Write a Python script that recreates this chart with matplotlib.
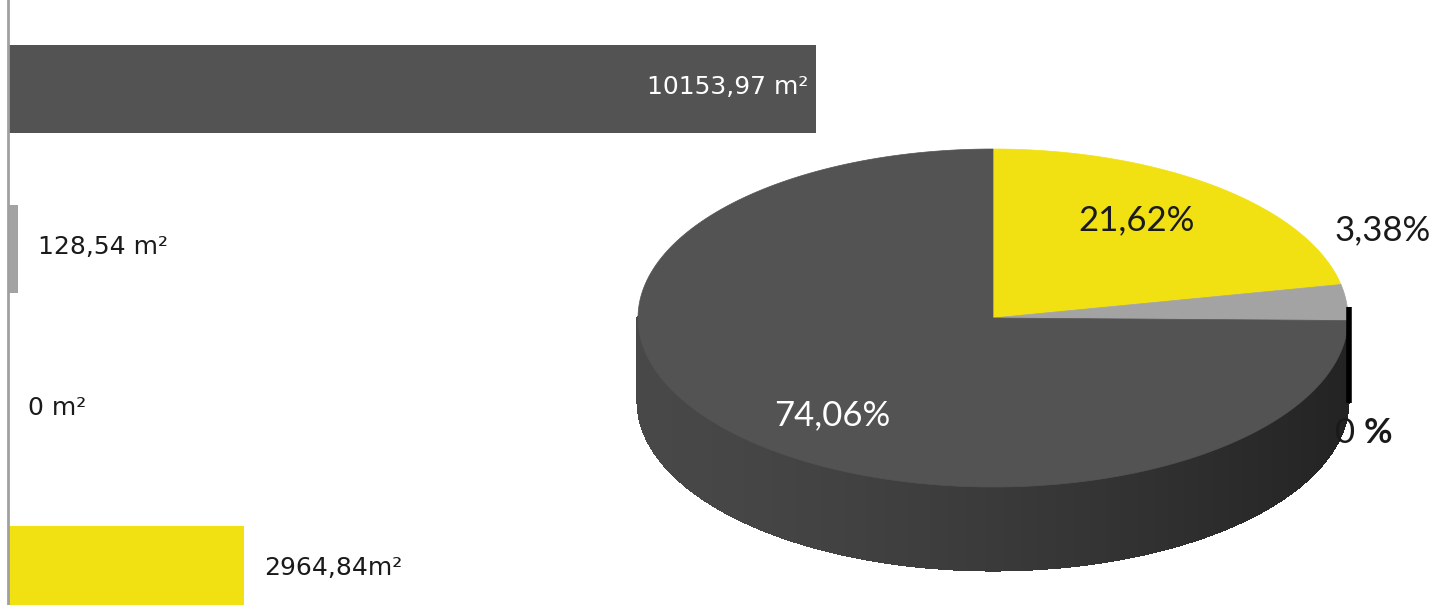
import numpy as np
import matplotlib
matplotlib.use("Agg")
import matplotlib.pyplot as plt
from matplotlib.collections import PolyCollection
from matplotlib.patches import Polygon
import matplotlib.colors as mcolors

# bar chart data (top to bottom)
bar_values = [10153.97, 128.54, 0.0, 2964.84]
bar_labels = ["10153,97 m²", "128,54 m²", "0 m²", "2964,84m²"]
bar_colors = ["#535353", "#a3a3a3", "#a3a3a3", "#f1e012"]

# pie data, clockwise from 12 o'clock
pie_shares = [21.62, 3.38, 0.0, 74.06]
pie_labels = ["21,62%", "3,38%", "0 %", "74,06%"]
pie_colors = ["#f1e012", "#a3a3a3", "#7a7a7a", "#535353"]

W, H = 1434, 605
fig = plt.figure(figsize=(W / 100, H / 100), dpi=100)

# ---------- left: horizontal bars ----------
ax = fig.add_axes([8 / W, 0, 808 / W, 1])
y = np.arange(len(bar_values))
ax.barh(y, bar_values, height=0.55, color=bar_colors, zorder=2)
ax.set_xlim(0, max(bar_values))
ax.set_ylim(3.218, -0.555)
for s in ["top", "right", "bottom"]:
    ax.spines[s].set_visible(False)
ax.spines["left"].set_color("#a0a0a0")
ax.spines["left"].set_linewidth(2)
ax.set_xticks([])
ax.set_yticks([])
ax.patch.set_alpha(0)

for i, (v, lab) in enumerate(zip(bar_values, bar_labels)):
    if v == max(bar_values):
        ax.annotate(lab, (v, i), xytext=(-8, 2), textcoords="offset pixels",
                    ha="right", va="center", color="white", fontsize=18,
                    family="DejaVu Sans")
    else:
        ax.annotate(lab, (v, i), xytext=(20, 2), textcoords="offset pixels",
                    ha="left", va="center", color="#1a1a1a", fontsize=18,
                    family="DejaVu Sans")

# ---------- right: 3D-looking pie ----------
pax = fig.add_axes([0, 0, 1, 1])
pax.set_xlim(0, W)
pax.set_ylim(H, 0)
pax.axis("off")
pax.patch.set_alpha(0)

cx, cy, a, b, depth = 993, 318, 355, 169, 83
shares = np.array(pie_shares) / sum(pie_shares)
bounds = np.concatenate([[0], np.cumsum(shares)]) * 360


def edge(t):
    t = np.radians(t)
    return cx + a * np.sin(t), cy - b * np.cos(t)


# side wall (front half only, 90..270 deg clockwise from top)
side_base = np.array(mcolors.to_rgb("#484848"))
side_dark = np.array(mcolors.to_rgb("#232323"))
ts = np.linspace(90, 270, 300)
polys, cols = [], []
for t0, t1 in zip(ts[1:], ts[:-1]):
    x0, y0 = edge(t0)
    x1, y1 = edge(t1)
    polys.append([(x0, y0), (x1, y1), (x1, y1 + depth), (x0, y0 + depth)])
    f = ((x0 + x1) / 2 - (cx - a)) / (2 * a)
    f = np.clip(f, 0, 1) ** 1.4
    cols.append(side_base * (1 - f) + side_dark * f)
pax.add_collection(PolyCollection(polys, facecolors=cols, edgecolors=cols,
                                  linewidths=1.5, antialiased=False))

# top face wedges
for i in range(len(shares)):
    if shares[i] == 0:
        continue
    tt = np.linspace(bounds[i], bounds[i + 1], 200)
    xs, ys = edge(tt)
    pts = np.column_stack([np.r_[cx, xs], np.r_[cy, ys]])
    pax.add_patch(Polygon(pts, closed=True, facecolor=pie_colors[i],
                          edgecolor=pie_colors[i], linewidth=0.5))

# labels inside the big slices
lab_font = dict(family=["Lato", "DejaVu Sans"], fontsize=25)
inner_shift = {0: (-14, 6), 3: (16, -14)}
for i in [0, 3]:
    mid = (bounds[i] + bounds[i + 1]) / 2
    t = np.radians(mid)
    lx, ly = cx + 0.7 * a * np.sin(t), cy - 0.7 * b * np.cos(t)
    pax.annotate(pie_labels[i], (lx, ly), xytext=inner_shift[i],
                 textcoords="offset pixels", ha="center", va="center",
                 color="white" if i == 3 else "#1a1a1a", **lab_font)

# small slices labelled outside
gx, gy = edge((bounds[1] + bounds[2]) / 2)
pax.annotate(pie_labels[1], (gx, gy), xytext=(36, 72), textcoords="offset pixels",
             ha="center", va="center", color="#1a1a1a", **lab_font)

zx, zy = edge(bounds[3])
pax.plot([zx + 1, zx + 1], [zy - 14, zy + 82], color="black", lw=4,
         solid_capstyle="butt")
pax.annotate("0 ", (zx, zy), xytext=(16, -112), textcoords="offset pixels",
             ha="right", va="center", color="#1a1a1a", **lab_font)
pax.annotate("%", (zx, zy), xytext=(16, -112), textcoords="offset pixels",
             ha="left", va="center", color="#1a1a1a", fontweight="bold",
             **lab_font)

fig.savefig("out.png", dpi=100)
